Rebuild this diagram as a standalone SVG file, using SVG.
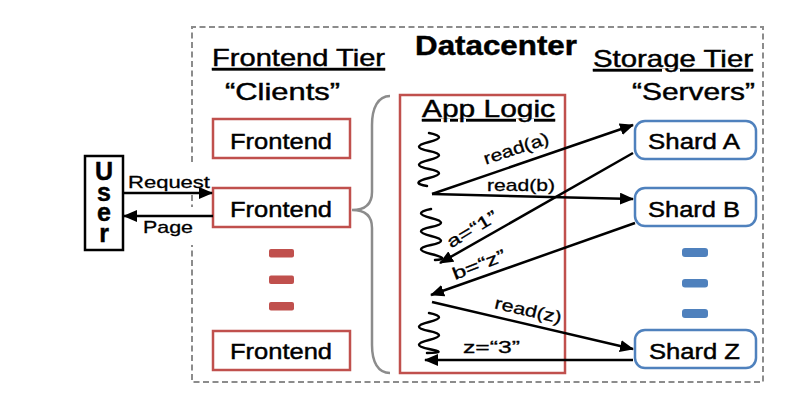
<svg xmlns="http://www.w3.org/2000/svg" width="800" height="410" viewBox="0 0 800 410">
<defs>
<marker id="ah" markerUnits="userSpaceOnUse" markerWidth="14" markerHeight="12" refX="13" refY="6" orient="auto">
<path d="M0,0 L14,6 L0,12 Z" fill="#000"/>
</marker>
<style>
text{font-family:"Liberation Sans",Arial,Helvetica,sans-serif;fill:#000;stroke:#000;stroke-width:0.45}
.fe{fill:#fff;stroke:#c0504d;stroke-width:2.5}
.sh{fill:#fff;stroke:#4f81bd;stroke-width:2.5}
.rd{fill:#c0504d}
.bd{fill:#4f81bd}
.dash{fill:none;stroke:#8c8c8c;stroke-width:2;stroke-dasharray:6 3.5}
.arr{stroke:#000;stroke-width:2.5;fill:none;marker-end:url(#ah)}
.sq{stroke:#000;stroke-width:2.5;fill:none;stroke-linecap:round}
.box{font-size:22px}
.lbl{font-size:17px;stroke-width:0.3}
.ttl{font-size:24px}
.ul{text-decoration:underline}
.vert{writing-mode:vertical-rl;text-orientation:upright}
</style>
</defs>
<rect width="800" height="410" fill="#fff"/>

<g id="datacenter">
<path class="dash" d="M192,162 L192,27 L763,27 L763,382 L192,382 L192,245 M192,195 L192,207"/>
<text x="415" y="55" font-size="28" font-weight="bold" stroke-width="0" textLength="162" lengthAdjust="spacingAndGlyphs">Datacenter</text>
</g>

<g id="frontend-tier">
<text class="ttl ul" x="212" y="66" textLength="173" lengthAdjust="spacingAndGlyphs">Frontend Tier</text>
<text class="ttl" x="225" y="100" textLength="115" lengthAdjust="spacingAndGlyphs">“Clients”</text>
</g>

<g id="storage-tier">
<text class="ttl ul" x="593" y="67" textLength="160" lengthAdjust="spacingAndGlyphs">Storage Tier</text>
<text class="ttl" x="632" y="100" textLength="123" lengthAdjust="spacingAndGlyphs">“Servers”</text>
</g>

<g id="user">
<rect x="85" y="156" width="38" height="94" fill="#fff" stroke="#000" stroke-width="2.5"/>
<text class="vert" x="104" y="157" font-size="25" font-weight="bold" stroke-width="0" letter-spacing="-7.5">User</text>
</g>

<g id="frontend1">
<rect class="fe" x="213" y="119" width="137" height="39"/>
<text class="box" x="230" y="149" textLength="102" lengthAdjust="spacingAndGlyphs">Frontend</text>
</g>
<g id="frontend2">
<rect class="fe" x="213" y="188" width="137" height="39"/>
<text class="box" x="230" y="217" textLength="102" lengthAdjust="spacingAndGlyphs">Frontend</text>
</g>
<g id="frontend-ellipsis">
<rect class="rd" x="269" y="249" width="25" height="8.5" rx="2"/>
<rect class="rd" x="269" y="275.5" width="25" height="8.5" rx="2"/>
<rect class="rd" x="269" y="302" width="25" height="8.5" rx="2"/>
</g>
<g id="frontend3">
<rect class="fe" x="213" y="331" width="137" height="39"/>
<text class="box" x="230" y="359" textLength="102" lengthAdjust="spacingAndGlyphs">Frontend</text>
</g>

<g id="brace">
<path d="M390,96 C378,96 372,108 372,125 L372,192 C372,204 365,210 352,210 C365,210 372,216 372,228 L372,345 C372,362 378,373 390,373" fill="none" stroke="#8c8c8c" stroke-width="2.5"/>
</g>

<g id="app-logic">
<rect class="fe" x="400" y="95" width="165" height="278"/>
<text class="ttl ul" x="422" y="117" textLength="133" lengthAdjust="spacingAndGlyphs">App Logic</text>
<path class="sq" d="M429,133 q20,4 0,9 t0,9 t0,9 t0,9 t0,9 t-2,8"/>
<path class="sq" d="M431,209 q-20,4 0,9 t0,9 t0,9 t0,9 t0,9 t4,6"/>
<path class="sq" d="M429,313 q20,4 0,9 t0,9 t0,9 t0,9 t-2,4"/>
</g>

<g id="shard-a">
<rect class="sh" x="635" y="121" width="121" height="38" rx="10"/>
<text class="box" x="648" y="149" textLength="92" lengthAdjust="spacingAndGlyphs">Shard A</text>
</g>
<g id="shard-b">
<rect class="sh" x="635" y="188" width="121" height="38" rx="10"/>
<text class="box" x="648" y="217" textLength="92" lengthAdjust="spacingAndGlyphs">Shard B</text>
</g>
<g id="shard-ellipsis">
<rect class="bd" x="682" y="248" width="26" height="9" rx="3"/>
<rect class="bd" x="682" y="279" width="26" height="8.5" rx="3"/>
<rect class="bd" x="682" y="309" width="26" height="9" rx="3"/>
</g>
<g id="shard-z">
<rect class="sh" x="635" y="330" width="121" height="38" rx="10"/>
<text class="box" x="649" y="359" textLength="91" lengthAdjust="spacingAndGlyphs">Shard Z</text>
</g>

<g id="connectors">
<line class="arr" x1="123" y1="193" x2="212" y2="193"/>
<text class="lbl" x="128" y="188" font-size="18" textLength="82" lengthAdjust="spacingAndGlyphs">Request</text>
<line class="arr" x1="213" y1="216" x2="124" y2="216"/>
<text class="lbl" x="143" y="233" font-size="18" textLength="50" lengthAdjust="spacingAndGlyphs">Page</text>

<line class="arr" x1="432" y1="194" x2="633" y2="125"/>
<text class="lbl" transform="translate(518,154) rotate(-18.5)" text-anchor="middle" textLength="68" lengthAdjust="spacingAndGlyphs">read(a)</text>
<line class="arr" x1="432" y1="194" x2="633" y2="199"/>
<text class="lbl" x="487" y="191" textLength="68" lengthAdjust="spacingAndGlyphs">read(b)</text>
<line class="arr" x1="633" y1="153" x2="440" y2="263"/>
<text class="lbl" transform="translate(475,234) rotate(-31)" text-anchor="middle" textLength="56" lengthAdjust="spacingAndGlyphs">a=“1”</text>
<line class="arr" x1="635" y1="223" x2="431" y2="295"/>
<text class="lbl" transform="translate(481,270) rotate(-21)" text-anchor="middle" textLength="56" lengthAdjust="spacingAndGlyphs">b=“z”</text>
<line class="arr" x1="432" y1="302" x2="633" y2="349"/>
<text class="lbl" transform="translate(527,316) rotate(13)" text-anchor="middle" textLength="68" lengthAdjust="spacingAndGlyphs">read(z)</text>
<line class="arr" x1="633" y1="360" x2="425" y2="360"/>
<text class="lbl" x="463" y="353" textLength="57" lengthAdjust="spacingAndGlyphs">z=“3”</text>
</g>
</svg>
